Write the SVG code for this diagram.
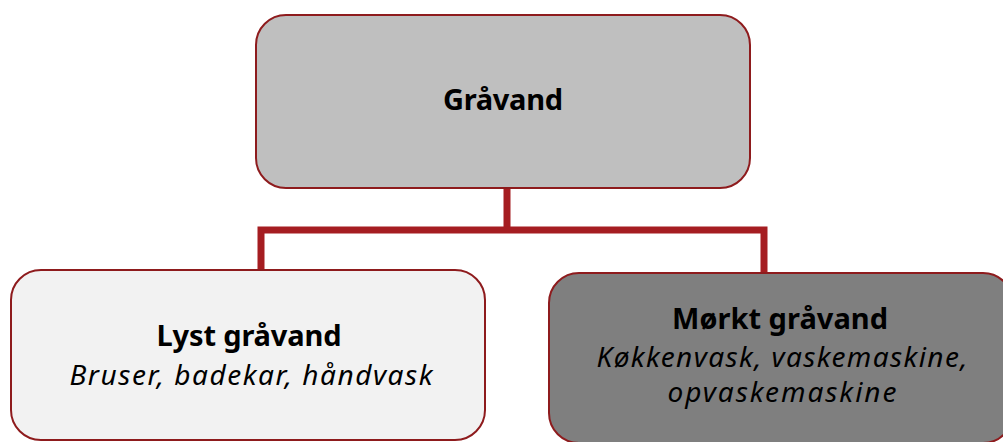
<svg xmlns="http://www.w3.org/2000/svg" width="1003" height="442" viewBox="0 0 1003 442">
<style>
.box{stroke:#8e1b1d;stroke-width:2}
.conn{fill:none;stroke:#a51d21;stroke-width:7;stroke-linejoin:miter}
text{font-family:"Noto Sans","Open Sans","DejaVu Sans",sans-serif;fill:#000;text-anchor:middle}
.b{font-weight:bold;font-size:29px}
.i{font-style:italic;font-size:28px}
</style>
<rect width="1003" height="442" fill="#fff"/>
<g id="connectors">
<path class="conn" d="M507,188 V230"/>
<path class="conn" d="M261,271 V230 H764 V274"/>
</g>
<g id="node-gravand">
<rect class="box" x="256" y="15" width="494" height="173" rx="30" fill="#bfbfbf"/>
<text class="b" x="503" y="110" textLength="120">Gråvand</text>
</g>
<g id="node-lyst">
<rect class="box" x="11" y="270" width="474" height="170" rx="30" fill="#f2f2f2"/>
<text class="b" x="249" y="346" textLength="185">Lyst gråvand</text>
<text class="i" x="251" y="385" textLength="363">Bruser, badekar, håndvask</text>
</g>
<g id="node-morkt">
<rect class="box" x="549" y="273" width="464" height="170" rx="30" fill="#7f7f7f"/>
<text class="b" x="780" y="329" textLength="216">Mørkt gråvand</text>
<text class="i" x="782" y="367" textLength="371">Køkkenvask, vaskemaskine,</text>
<text class="i" x="782" y="402" textLength="229">opvaskemaskine</text>
</g>
</svg>
